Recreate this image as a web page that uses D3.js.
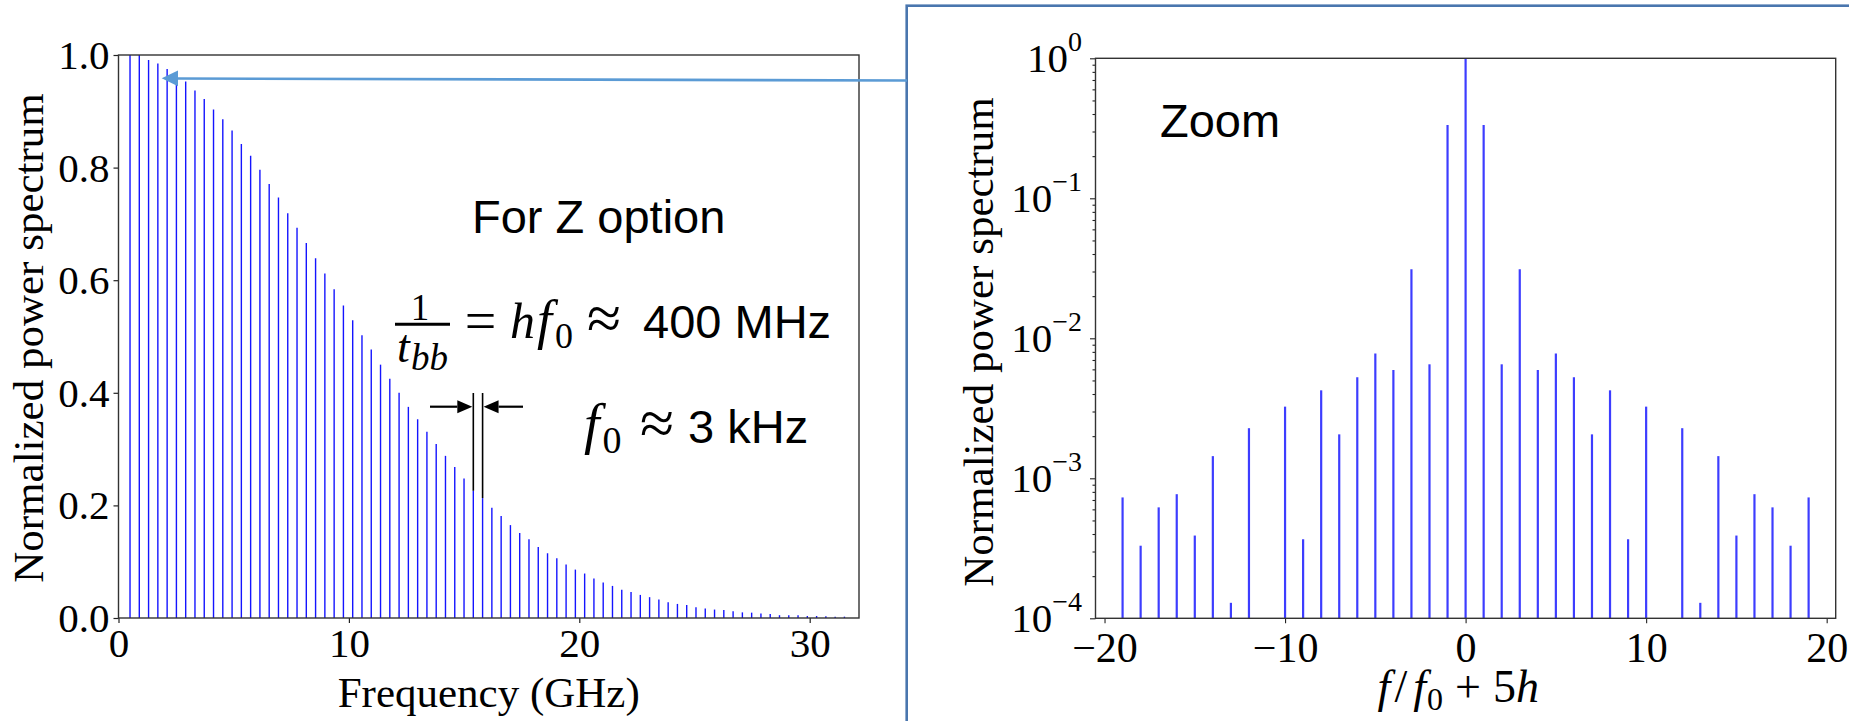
<!DOCTYPE html>
<html><head><meta charset="utf-8">
<script src="https://cdn.jsdelivr.net/npm/d3@7/dist/d3.min.js"></script>
<style>body{margin:0;background:#fff}</style>
</head><body><svg id="c" width="1849" height="721"></svg>
<script>
// ---------------- data ----------------
// left panel: harmonic comb (GHz) and normalized power
const harmonicIndex = d3.range(1, 79);          // harmonic numbers 1..78
const firstHarmonicGHz = 0.50;
const harmonicStepGHz = 0.4027;                  // hf0 ≈ 400 MHz
const spectrumPower = [
  1.000, 1.000, 0.991, 0.985, 0.975, 0.963, 0.953, 0.937, 0.922, 0.903,
  0.886, 0.866, 0.842, 0.821, 0.796, 0.771, 0.747, 0.719, 0.693, 0.666,
  0.639, 0.612, 0.584, 0.555, 0.529, 0.502, 0.477, 0.450, 0.425, 0.400,
  0.375, 0.353, 0.331, 0.309, 0.288, 0.268, 0.248, 0.226, 0.213, 0.196,
  0.181, 0.165, 0.151, 0.140, 0.126, 0.115, 0.106, 0.095, 0.086, 0.079,
  0.070, 0.063, 0.057, 0.050, 0.046, 0.041, 0.037, 0.033, 0.028, 0.025,
  0.023, 0.019, 0.017, 0.015, 0.014, 0.012, 0.010, 0.0095, 0.008, 0.007,
  0.005, 0.005, 0.0047, 0.0036, 0.0036, 0.003, 0.0024, 0.0024
];
const markedHarmonics = [38, 39];               // the two stems bracketed by arrows
const leftXTicks = [0, 10, 20, 30];
const leftYTicks = [0, 0.2, 0.4, 0.6, 0.8, 1.0];

// right panel: zoom around one harmonic (log scale)
const zoomOffsets = [-19,-18,-17,-16,-15,-14,-13,-12,-10,-9,-8,-7,-6,-5,-4,-3,-2,-1,0,
                     1,2,3,4,5,6,7,8,9,10,12,13,14,15,16,17,18,19];
const zoomPower = [7.3e-4,3.3e-4,6.2e-4,7.7e-4,3.9e-4,1.44e-3,1.29e-4,2.28e-3,3.25e-3,3.67e-4,
                   4.25e-3,2.06e-3,5.27e-3,7.8e-3,5.94e-3,3.11e-2,6.52e-3,0.334,1.0,
                   0.334,6.52e-3,3.11e-2,5.94e-3,7.8e-3,5.27e-3,2.06e-3,4.25e-3,3.67e-4,3.25e-3,
                   2.28e-3,1.29e-4,1.44e-3,3.9e-4,7.7e-4,6.2e-4,3.3e-4,7.3e-4];
const zoomXTicks = [-20, -10, 0, 10, 20];
const zoomYExponents = [0, -1, -2, -3, -4];

// ---------------- drawing ----------------
const SERIF = "'Liberation Serif','Times New Roman',serif";
const SANS = "'Liberation Sans',Arial,sans-serif";
const svg = d3.select("#c");
svg.append("rect").attr("width", 1849).attr("height", 721).attr("fill", "#fff");

function txt(x, y, s, o = {}) {
  return svg.append("text").attr("x", x).attr("y", y).text(s)
    .attr("font-family", o.font || SERIF).attr("font-size", o.size || 43)
    .attr("font-style", o.italic ? "italic" : "normal")
    .attr("text-anchor", o.anchor || "start").attr("fill", "#000");
}
const endOf = t => +t.attr("x") + t.node().getComputedTextLength();

// ---- Left panel ----
const L = {x0: 118.5, x1: 859, y0: 55, y1: 618};
const xL = d3.scaleLinear().domain([0, 32.14]).range([L.x0, L.x1]);
const yL = d3.scaleLinear().domain([0, 1]).range([L.y1, L.y0]);
const freqOf = n => firstHarmonicGHz + (n - 1) * harmonicStepGHz;

const gL = svg.append("g");
gL.selectAll("line.stem").data(harmonicIndex).join("line").attr("class", "stem")
  .attr("x1", n => xL(freqOf(n))).attr("x2", n => xL(freqOf(n)))
  .attr("y1", yL(0)).attr("y2", (n, i) => yL(spectrumPower[i]))
  .attr("stroke", "#1414ff").attr("stroke-width", 1.4);

const axL = gL.append("g").attr("transform", `translate(0,${L.y1})`)
  .call(d3.axisBottom(xL).tickValues(leftXTicks).tickSize(5).tickFormat(d3.format("d")));
axL.selectAll("text").attr("y", 38.7).attr("dy", 0);
const ayL = gL.append("g").attr("transform", `translate(${L.x0},0)`)
  .call(d3.axisLeft(yL).tickValues(leftYTicks).tickSize(5).tickPadding(4).tickFormat(d3.format(".1f")));
[axL, ayL].forEach(a => {
  a.select(".domain").remove();
  a.selectAll("line").attr("stroke", "#222").attr("stroke-width", 1.2);
  a.selectAll("text").attr("font-family", SERIF).attr("font-size", 41).attr("fill", "#000");
});
ayL.selectAll("text").attr("dy", "0.33em");
gL.append("rect").attr("x", L.x0).attr("y", L.y0).attr("width", L.x1 - L.x0).attr("height", L.y1 - L.y0)
  .attr("fill", "none").attr("stroke", "#333").attr("stroke-width", 1.4);

txt((L.x0 + L.x1) / 2, 706.7, "Frequency (GHz)", {anchor: "middle", size: 43});
svg.append("text").attr("transform", "translate(43,338) rotate(-90)").attr("text-anchor", "middle")
  .attr("font-family", SERIF).attr("font-size", 43).text("Normalized power spectrum");

// black bracket lines + arrows
const bracketTop = 393, arrowY = 406.7;
markedHarmonics.forEach(n => {
  const x = xL(freqOf(n));
  svg.append("line").attr("x1", x).attr("x2", x).attr("y1", bracketTop).attr("y2", yL(spectrumPower[n - 1]))
    .attr("stroke", "#000").attr("stroke-width", 1.6);
});
function blackArrow(xFrom, xTip, y) {
  const dir = Math.sign(xTip - xFrom), hl = 15, hw = 6.5;
  svg.append("line").attr("x1", xFrom).attr("x2", xTip - dir * hl).attr("y1", y).attr("y2", y)
    .attr("stroke", "#000").attr("stroke-width", 2.2);
  svg.append("polygon").attr("points",
    `${xTip},${y} ${xTip - dir * hl},${y - hw} ${xTip - dir * hl},${y + hw}`).attr("fill", "#000");
}
const xa = xL(freqOf(markedHarmonics[0])), xb = xL(freqOf(markedHarmonics[1]));
blackArrow(430, xa - 1, arrowY);
blackArrow(523, xb + 1, arrowY);

// annotations
txt(472, 233, "For Z option", {font: SANS, size: 47});
txt(420, 320, "1", {size: 37, anchor: "middle"});
svg.append("line").attr("x1", 395).attr("x2", 450).attr("y1", 324.3).attr("y2", 324.3)
  .attr("stroke", "#000").attr("stroke-width", 3);
txt(397, 361.7, "t", {size: 46, italic: true});
txt(411, 370, "bb", {size: 37, italic: true});
txt(480.5, 340, "=", {size: 56, anchor: "middle"});
txt(510, 338.3, "h", {size: 50, italic: true});
const f1 = txt(537, 338.3, "f", {size: 54, italic: true});
txt(endOf(f1) + 3, 348, "0", {size: 36});
txt(587, 339, "≈", {size: 62});
txt(643, 338, "400 MHz", {font: SANS, size: 47});

const f2 = txt(584, 443, "f", {size: 56, italic: true});
txt(endOf(f2) + 3, 453, "0", {size: 38});
txt(640, 444, "≈", {size: 62});
txt(688, 443, "3 kHz", {font: SANS, size: 47});

// ---- Right panel ----
svg.append("rect").attr("x", 906.7).attr("y", 5.7).attr("width", 1100).attr("height", 900)
  .attr("fill", "none").attr("stroke", "#4A76AE").attr("stroke-width", 2.6);

// blue connecting arrow
svg.append("line").attr("x1", 907).attr("y1", 80.5).attr("x2", 176).attr("y2", 78.5)
  .attr("stroke", "#5B9BD5").attr("stroke-width", 2.6);
svg.append("polygon").attr("points", "161.7,78.3 178,70.6 178,86.2").attr("fill", "#5B9BD5");

const R = {x0: 1095.5, x1: 1835.7, y0: 58.3, y1: 618.3};
const xR = d3.scaleLinear().domain([-20.5, 20.5]).range([R.x0, R.x1]);
const yR = d3.scaleLog().domain([1e-4, 1]).range([R.y1, R.y0]);
const gR = svg.append("g");
gR.selectAll("line.stem").data(zoomOffsets).join("line").attr("class", "stem")
  .attr("x1", d => xR(d)).attr("x2", d => xR(d))
  .attr("y1", yR(1e-4)).attr("y2", (d, i) => yR(zoomPower[i]))
  .attr("stroke", "#3d3dff").attr("stroke-width", 2.2);

const axR = gR.append("g").attr("transform", `translate(0,${R.y1})`)
  .call(d3.axisBottom(xR).tickValues(zoomXTicks).tickSize(5).tickFormat(d => d < 0 ? "\u2212" + Math.abs(d) : d));
axR.selectAll("text").attr("y", 44).attr("dy", 0);
const minorVals = [];
zoomYExponents.slice(1).forEach(e => { for (let m = 2; m <= 9; m++) minorVals.push(m * Math.pow(10, e)); });
const ayRminor = gR.append("g").attr("transform", `translate(${R.x0},0)`)
  .call(d3.axisLeft(yR).tickValues(minorVals).tickSize(3).tickFormat(""));
const ayR = gR.append("g").attr("transform", `translate(${R.x0},0)`)
  .call(d3.axisLeft(yR).tickValues(zoomYExponents.map(e => Math.pow(10, e))).tickSize(5.5).tickPadding(8).tickFormat(""));
[axR, ayR, ayRminor].forEach(a => {
  a.select(".domain").remove();
  a.selectAll("line").attr("stroke", "#222").attr("stroke-width", 1.1);
  a.selectAll("text").attr("font-family", SERIF).attr("font-size", 42).attr("fill", "#000");
});
// superscript labels 10^e
zoomYExponents.forEach(e => {
  const t = svg.append("text").attr("x", R.x0 - 13.5).attr("y", yR(Math.pow(10, e)) + 13.4)
    .attr("text-anchor", "end").attr("font-family", SERIF).attr("font-size", 41);
  t.append("tspan").text("10");
  t.append("tspan").attr("dy", -21).attr("font-size", 28).text(e === 0 ? "0" : "\u2212" + Math.abs(e));
});
gR.append("rect").attr("x", R.x0).attr("y", R.y0).attr("width", R.x1 - R.x0).attr("height", R.y1 - R.y0)
  .attr("fill", "none").attr("stroke", "#333").attr("stroke-width", 1.4);

svg.append("text").attr("transform", "translate(993,342) rotate(-90)").attr("text-anchor", "middle")
  .attr("font-family", SERIF).attr("font-size", 43).text("Normalized power spectrum");

// x label f/f0 + 5h built from separate pieces laid out left to right
const xlParts = [
  {s: "f", italic: true, size: 46, dx: 0, dy: 0},
  {s: "/", size: 46, dx: 4, dy: 0},
  {s: "f", italic: true, size: 46, dx: 6, dy: 0},
  {s: "0", size: 32, dx: 1, dy: 8},
  {s: "+", size: 46, dx: 12, dy: 0},
  {s: "5", size: 46, dx: 12, dy: 0},
  {s: "h", italic: true, size: 46, dx: 0, dy: 0}
];
const xlG = svg.append("g");
let cx = 0;
xlParts.forEach(p => {
  cx += p.dx;
  const t = xlG.append("text").attr("x", cx).attr("y", 702 + p.dy).text(p.s)
    .attr("font-family", SERIF).attr("font-size", p.size).attr("font-style", p.italic ? "italic" : "normal");
  cx += t.node().getComputedTextLength();
});
xlG.attr("transform", `translate(${xR(0) - 88},0)`);

txt(1160, 136.7, "Zoom", {font: SANS, size: 47});
</script></body></html>
